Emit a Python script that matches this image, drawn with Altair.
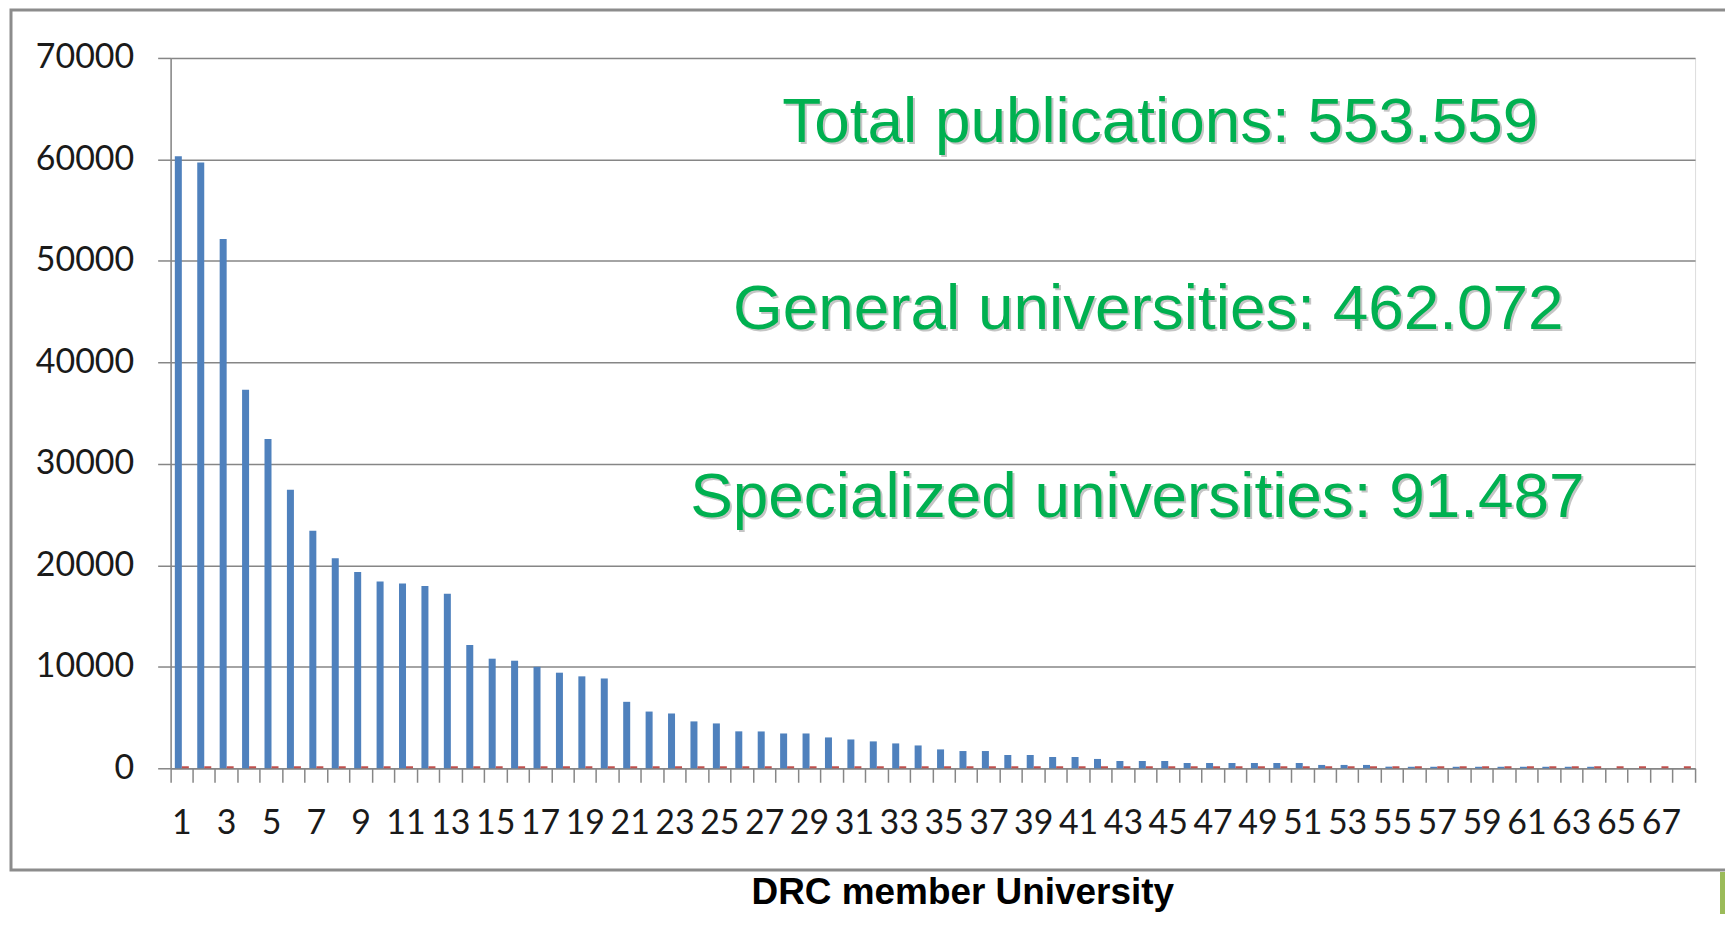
import altair as alt
import pandas as pd

# ---- data ----
universities = list(range(1, 69))

general = [
    60300, 59700, 52150, 37300, 32450, 27450, 23400, 20700, 19350, 18400,
    18200, 17970, 17200, 12150, 10800, 10600, 10000, 9420, 9060, 8850,
    6550, 5590, 5400, 4620, 4420, 3640, 3630, 3430, 3430, 3040,
    2840, 2650, 2450, 2250, 1860, 1700, 1700, 1310, 1310, 1110,
    1110, 920, 720, 720, 720, 520, 520, 520, 520, 520,
    520, 330, 330, 330, 160, 150, 150, 150, 150, 150,
    150, 150, 150, 150, 0, 0, 0, 0,
]

specialized = [
    200, 200, 200, 200, 200, 200, 200, 200, 200, 200,
    200, 200, 200, 200, 200, 200, 200, 200, 200, 200,
    200, 200, 200, 200, 200, 200, 200, 200, 200, 200,
    200, 200, 200, 200, 200, 200, 200, 200, 200, 200,
    200, 200, 200, 200, 200, 200, 200, 200, 200, 200,
    200, 200, 200, 200, 200, 200, 200, 200, 200, 200,
    200, 200, 200, 200, 200, 200, 200, 200,
]

series_names = ["General universities", "Specialized universities"]
series_colors = ["#4F81BD", "#C0504D"]

annotations = [
    "Total publications: 553.559",
    "General universities: 462.072",
    "Specialized universities: 91.487",
]
x_title = "DRC member University"
y_ticks = [0, 10000, 20000, 30000, 40000, 50000, 60000, 70000]

# ---- table ----
df = pd.DataFrame({
    "University": universities + universities,
    "Series": [series_names[0]] * len(universities) + [series_names[1]] * len(universities),
    "Publications": general + specialized,
})

W, H = 1528, 712
GRAY = "#868686"

bars = alt.Chart(df).mark_bar().encode(
    x=alt.X(
        "University:O",
        scale=alt.Scale(paddingInner=0, paddingOuter=0),
        axis=alt.Axis(
            title=None, labelAngle=0, labelFont="Lato", labelFontSize=34,
            labelColor="#1a1a1a", labelPadding=24, labelOverlap=False,
            labelExpr="datum.value % 2 == 1 ? datum.label : ''",
            ticks=True, tickSize=14, tickColor=GRAY, tickWidth=1.5,
            bandPosition=1, tickExtra=True,
            domainColor=GRAY, domainWidth=1.5, grid=False,
        ),
    ),
    xOffset=alt.XOffset("Series:N", sort=series_names,
                        scale=alt.Scale(paddingInner=0, paddingOuter=0.6)),
    y=alt.Y(
        "Publications:Q",
        scale=alt.Scale(domain=[0, 70000], nice=False),
        axis=alt.Axis(
            title=None, values=y_ticks, format="d",
            labelFont="Lato", labelFontSize=34, labelColor="#1a1a1a",
            labelPadding=24, tickSize=13, tickColor=GRAY, tickWidth=1.5,
            domainColor=GRAY, domainWidth=1.5,
            grid=True, gridColor=GRAY, gridWidth=1.5,
        ),
    ),
    color=alt.Color("Series:N", scale=alt.Scale(domain=series_names, range=series_colors), legend=None),
)

frame = alt.Chart(pd.DataFrame({"k": [0]})).mark_rect(
    fill="transparent", stroke="#8c8c8c", strokeWidth=3
).encode(
    x=alt.value(-160), x2=alt.value(1640), y=alt.value(-48), y2=alt.value(814)
)

deco = alt.Chart(pd.DataFrame({"k": [0]})).mark_rect(fill="#9BBB59").encode(
    x=alt.value(1553), x2=alt.value(1620), y=alt.value(816), y2=alt.value(900)
)

ann_pos = [(992, 84), (980, 272), (969, 460)]
layers = [frame, deco, bars]
for label, (px, py) in zip(annotations, ann_pos):
    d = pd.DataFrame({"label": [label]})
    shadow = alt.Chart(d).mark_text(
        font="Liberation Sans", fontSize=64, align="center", baseline="alphabetic",
        color="#7f7f7f", opacity=0.45, dx=2, dy=2,
    ).encode(text="label:N", x=alt.value(px), y=alt.value(py))
    txt = alt.Chart(d).mark_text(
        font="Liberation Sans", fontSize=64, align="center", baseline="alphabetic",
        color="#00B050",
    ).encode(text="label:N", x=alt.value(px), y=alt.value(py))
    layers += [shadow, txt]

title = alt.Chart(pd.DataFrame({"label": [x_title]})).mark_text(
    font="Liberation Sans", fontSize=37, fontWeight="bold", align="center",
    baseline="alphabetic", color="#000000",
).encode(text="label:N", x=alt.value(794), y=alt.value(848))
layers.append(title)

chart = alt.layer(*layers).properties(
    width=W, height=H,
    autosize=alt.AutoSizeParams(type="none"),
    padding={"left": 163, "top": 49, "right": 30, "bottom": 145},
).configure_view(stroke=None).configure(background="white")

chart.save("out.html", embed_options={"renderer": "svg", "actions": False})
